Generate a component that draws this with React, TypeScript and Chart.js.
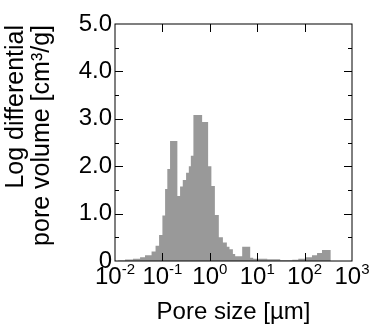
import React, { useEffect, useRef } from 'react';
import { Chart, registerables } from 'chart.js';

Chart.register(...registerables);

// Histogram bin edges (pore size, µm) and log differential pore volume per bin (cm³/g)
const binEdgesUm = [
  0.0116, 0.0163, 0.024, 0.0338, 0.043, 0.0591, 0.0717, 0.0851, 0.1, 0.114,
  0.127, 0.145, 0.207, 0.236, 0.269, 0.316, 0.361, 0.398, 0.451, 0.689,
  0.922, 1.08, 1.28, 1.55, 1.89, 2.29, 2.6, 3.07, 3.43, 4.82,
  7.12, 8.24, 16.3, 30.6, 54.9, 73.6, 103, 143, 183, 233, 357,
];
const logDiffVolume = [
  0.01, 0.03, 0.05, 0.08, 0.12, 0.2, 0.32, 0.55, 0.96, 1.52,
  1.94, 2.53, 1.37, 1.57, 1.71, 1.86, 2.0, 2.22, 3.08, 2.93,
  2.0, 1.58, 0.97, 0.5, 0.39, 0.3, 0.25, 0.15, 0.1, 0.3,
  0.07, 0.045, 0.035, 0.015, 0.025, 0.045, 0.08, 0.12, 0.17, 0.23,
];

const xTickValues = [0.01, 0.1, 1, 10, 100, 1000];
const xTickExponents = ['-2', '-1', '0', '1', '2', '3'];
const yTickLabels = ['0', '1.0', '2.0', '3.0', '4.0', '5.0'];
const yMajorValues = [1, 2, 3, 4];
const yMinorValues = [0.5, 1.5, 2.5, 3.5, 4.5];
const xTitle = 'Pore size [µm]';
const yTitleLines = ['Log differential', 'pore volume [cm³/g]'];

const FONT = '"Liberation Sans", Arial, sans-serif';
const FS = 24;
const YT_FS = 25;

const framePlugin = {
  id: 'frameTicksLabels',
  afterDatasetsDraw(chart: any) {
    const { ctx, chartArea: a, scales } = chart;
    const x = scales.x;
    const y = scales.y;
    ctx.save();
    ctx.strokeStyle = '#000';
    ctx.lineWidth = 1;
    ctx.strokeRect(a.left, a.top, a.right - a.left, a.bottom - a.top);
    ctx.beginPath();
    yMajorValues.forEach((v) => {
      const py = Math.round(y.getPixelForValue(v)) + 0.5;
      ctx.moveTo(a.left, py); ctx.lineTo(a.left + 8, py);
      ctx.moveTo(a.right, py); ctx.lineTo(a.right - 8, py);
    });
    yMinorValues.forEach((v) => {
      const py = Math.round(y.getPixelForValue(v)) + 0.5;
      ctx.moveTo(a.left, py); ctx.lineTo(a.left + 4, py);
      ctx.moveTo(a.right, py); ctx.lineTo(a.right - 4, py);
    });
    xTickValues.slice(1, -1).forEach((v) => {
      const px = Math.round(x.getPixelForValue(v)) + 0.5;
      ctx.moveTo(px, a.bottom); ctx.lineTo(px, a.bottom - 8);
      ctx.moveTo(px, a.top); ctx.lineTo(px, a.top + 8);
    });
    ctx.stroke();
    ctx.restore();
  },
  afterDraw(chart: any) {
    const { ctx, chartArea: a, scales } = chart;
    const x = scales.x;
    ctx.save();
    ctx.fillStyle = '#000';
    ctx.textBaseline = 'alphabetic';
    ctx.textAlign = 'left';
    const supFS = 15;
    xTickValues.forEach((v, i) => {
      const px = x.getPixelForValue(v);
      ctx.font = `${FS}px ${FONT}`;
      const wBase = ctx.measureText('10').width;
      ctx.font = `${supFS}px ${FONT}`;
      const wExp = ctx.measureText(xTickExponents[i]).width;
      const start = px - (wBase + wExp) / 2;
      const base = a.bottom + 23;
      ctx.font = `${FS}px ${FONT}`;
      ctx.fillText('10', start, base);
      ctx.font = `${supFS}px ${FONT}`;
      ctx.fillText(xTickExponents[i], start + wBase, base - 10);
    });
    ctx.font = `${FS}px ${FONT}`;
    ctx.textAlign = 'center';
    ctx.textBaseline = 'middle';
    ctx.fillText(xTitle, (a.left + a.right) / 2, 312);
    // y title, two lines, rotated
    ctx.font = `${YT_FS}px ${FONT}`;
    ctx.textAlign = 'right';
    const lineX = [16, 42];
    yTitleLines.forEach((t, i) => {
      ctx.save();
      ctx.translate(lineX[i], 25);
      ctx.rotate(-Math.PI / 2);
      ctx.fillText(t, 0, 0);
      ctx.restore();
    });
    ctx.restore();
  },
};

export default function App() {
  const ref = useRef<HTMLCanvasElement>(null);
  useEffect(() => {
    if (!ref.current) return;
    const data = binEdgesUm.map((e, i) => ({ x: e, y: i < logDiffVolume.length ? logDiffVolume[i] : 0 }));
    const chart = new Chart(ref.current, {
      type: 'line',
      data: {
        datasets: [
          {
            data,
            stepped: 'before',
            fill: 'origin',
            backgroundColor: '#999999',
            borderColor: 'rgba(0,0,0,0)',
            borderWidth: 0,
            pointRadius: 0,
          } as any,
        ],
      },
      options: {
        responsive: false,
        animation: false,
        devicePixelRatio: 1,
        layout: { padding: { top: 24, right: 23, left: 0, bottom: 0 } },
        plugins: { legend: { display: false }, tooltip: { enabled: false } },
        scales: {
          x: {
            type: 'logarithmic',
            min: 0.01,
            max: 1000,
            grid: { display: false },
            border: { display: false },
            ticks: { display: false },
            afterFit: (s: any) => { s.height = 68; },
          },
          y: {
            type: 'linear',
            min: 0,
            max: 5,
            grid: { display: false, drawTicks: false },
            border: { display: false },
            ticks: {
              stepSize: 1,
              padding: 3,
              color: '#000',
              font: { size: FS, family: FONT },
              callback: (_v: any, i: number) => yTickLabels[i],
            },
            afterFit: (s: any) => { s.width = 115; },
          },
        },
      },
      plugins: [framePlugin],
    });
    return () => chart.destroy();
  }, []);
  return (
    <div style={{ position: 'fixed', left: 0, top: 0, width: 375, height: 329, background: '#fff' }}>
      <canvas ref={ref} width={375} height={329} />
    </div>
  );
}
